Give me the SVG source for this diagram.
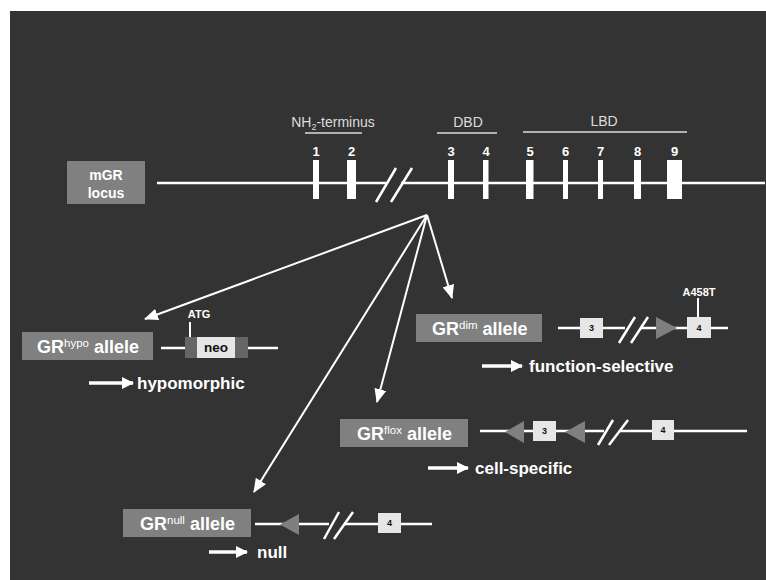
<svg xmlns="http://www.w3.org/2000/svg" width="766" height="580" viewBox="0 0 766 580">
<defs>
<style>
.bg{fill:#333333}
.lbl{fill:#808080}
.w{fill:#ffffff;font-family:"Liberation Sans",Arial,sans-serif}
.b{font-weight:bold}
.gl{stroke:#ffffff;stroke-width:2.5;fill:none}
.ex{fill:#ffffff}
.gbox{fill:#e6e6e6}
.gnum{fill:#111111;font-family:"Liberation Sans",Arial,sans-serif;font-weight:bold;font-size:9px;text-anchor:middle}
.tri{fill:#7f7f7f}
.conn{stroke:#ffffff;stroke-width:2;fill:none}
.res{stroke:#ffffff;stroke-width:3.5;fill:none}
</style>
<marker id="ah" markerWidth="14" markerHeight="12" refX="13" refY="6" orient="auto" markerUnits="userSpaceOnUse">
<path d="M0,0 L14,6 L0,12 Z" fill="#ffffff"/>
</marker>
<marker id="rh" markerWidth="12" markerHeight="12" refX="11" refY="6" orient="auto" markerUnits="userSpaceOnUse">
<path d="M0,0 L12,6 L0,12 Z" fill="#ffffff"/>
</marker>
</defs>
<rect x="0" y="0" width="766" height="580" fill="#ffffff"/>
<rect class="bg" x="10" y="11" width="756" height="569"/>

<g id="locus">
<rect class="lbl" x="67" y="161" width="78" height="43"/>
<text class="w b" x="106" y="180" font-size="14" text-anchor="middle">mGR</text>
<text class="w b" x="106" y="198" font-size="14" text-anchor="middle">locus</text>
<line class="gl" x1="157" y1="183" x2="386" y2="183"/>
<line class="gl" x1="401" y1="183" x2="765" y2="183"/>
<line class="gl" x1="376" y1="202" x2="396" y2="168" stroke-width="2"/>
<line class="gl" x1="391" y1="202" x2="412" y2="168" stroke-width="2"/>
<rect class="ex" x="313" y="160" width="6" height="39"/>
<rect class="ex" x="347" y="160" width="9" height="39"/>
<rect class="ex" x="448" y="160" width="6" height="39"/>
<rect class="ex" x="483" y="160" width="5.5" height="39"/>
<rect class="ex" x="526" y="160" width="7.5" height="39"/>
<rect class="ex" x="563" y="160" width="5" height="39"/>
<rect class="ex" x="598" y="160" width="5" height="39"/>
<rect class="ex" x="634" y="160" width="7" height="39"/>
<rect class="ex" x="667" y="160" width="15" height="39"/>
<g class="w b" font-size="13" text-anchor="middle">
<text x="316" y="156">1</text>
<text x="351.5" y="156">2</text>
<text x="451" y="156">3</text>
<text x="486" y="156">4</text>
<text x="530" y="156">5</text>
<text x="565.5" y="156">6</text>
<text x="600.5" y="156">7</text>
<text x="637.5" y="156">8</text>
<text x="674.5" y="156">9</text>
</g>
<g fill="#dddddd" font-family="&quot;Liberation Sans&quot;,Arial,sans-serif" font-size="14" text-anchor="middle">
<text x="333" y="127">NH<tspan font-size="9" dy="3">2</tspan><tspan dy="-3">-terminus</tspan></text>
<text x="468" y="127">DBD</text>
<text x="604" y="126">LBD</text>
</g>
<line x1="305" y1="133" x2="362" y2="133" stroke="#dddddd" stroke-width="1.5"/>
<line x1="437" y1="133" x2="497" y2="133" stroke="#dddddd" stroke-width="1.5"/>
<line x1="523" y1="132" x2="687" y2="132" stroke="#dddddd" stroke-width="1.5"/>
</g>

<g id="connectors">
<line class="conn" x1="427" y1="215" x2="145" y2="319" marker-end="url(#ah)"/>
<line class="conn" x1="427" y1="215" x2="452" y2="298" marker-end="url(#ah)"/>
<line class="conn" x1="427" y1="215" x2="377" y2="402" marker-end="url(#ah)"/>
<line class="conn" x1="427" y1="215" x2="254" y2="492" marker-end="url(#ah)"/>
</g>

<g id="hypo">
<rect class="lbl" x="22" y="332" width="131" height="28"/>
<text class="w b" x="37" y="353" font-size="18">GR<tspan font-size="11.5" font-weight="normal" dy="-6">hypo</tspan><tspan dy="6"> allele</tspan></text>
<line class="gl" x1="161" y1="348" x2="185" y2="348"/>
<line class="gl" x1="248" y1="348" x2="278" y2="348"/>
<rect x="185" y="337" width="63" height="21" fill="#666666"/>
<rect class="gbox" x="197" y="337" width="38" height="21"/>
<text x="216" y="352" font-family="&quot;Liberation Sans&quot;,Arial,sans-serif" font-weight="bold" font-size="13.5" fill="#111111" text-anchor="middle">neo</text>
<line x1="190" y1="322" x2="190" y2="337" stroke="#ffffff" stroke-width="2"/>
<text class="w b" x="199" y="318" font-size="11" text-anchor="middle">ATG</text>
<line class="res" x1="89" y1="383" x2="133" y2="383" marker-end="url(#rh)"/>
<text class="w b" x="137" y="389" font-size="17">hypomorphic</text>
</g>

<g id="dim">
<rect class="lbl" x="416" y="314" width="126" height="28"/>
<text class="w b" x="432" y="335" font-size="18">GR<tspan font-size="11.5" font-weight="normal" dy="-6">dim</tspan><tspan dy="6"> allele</tspan></text>
<line class="gl" x1="558" y1="328" x2="625" y2="328"/>
<line class="gl" x1="640" y1="328" x2="728" y2="328"/>
<line class="gl" x1="619" y1="343" x2="635" y2="317" stroke-width="2"/>
<line class="gl" x1="631" y1="343" x2="648" y2="317" stroke-width="2"/>
<rect class="gbox" x="580" y="318" width="23" height="20"/>
<text class="gnum" x="591.5" y="331">3</text>
<polygon class="tri" points="656,317 677,328 656,339"/>
<rect class="gbox" x="687" y="317" width="24" height="21"/>
<text class="gnum" x="699" y="331">4</text>
<line x1="698" y1="298" x2="698" y2="317" stroke="#ffffff" stroke-width="2"/>
<text class="w b" x="699" y="296" font-size="11" text-anchor="middle">A458T</text>
<line class="res" x1="482" y1="366" x2="522" y2="366" marker-end="url(#rh)"/>
<text class="w b" x="529" y="372" font-size="17">function-selective</text>
</g>

<g id="flox">
<rect class="lbl" x="340" y="419" width="128" height="28"/>
<text class="w b" x="357" y="440" font-size="18">GR<tspan font-size="11.5" font-weight="normal" dy="-6">flox</tspan><tspan dy="6"> allele</tspan></text>
<line class="gl" x1="480" y1="431" x2="604" y2="431"/>
<line class="gl" x1="619" y1="431" x2="747" y2="431"/>
<line class="gl" x1="598" y1="445" x2="613" y2="420" stroke-width="2"/>
<line class="gl" x1="609" y1="445" x2="628" y2="420" stroke-width="2"/>
<polygon class="tri" points="524,421 505,432 524,443"/>
<rect class="gbox" x="533" y="421" width="23" height="20"/>
<text class="gnum" x="544.5" y="434">3</text>
<polygon class="tri" points="585,421 565,432 585,443"/>
<rect class="gbox" x="652" y="420" width="22" height="20"/>
<text class="gnum" x="663" y="433">4</text>
<line class="res" x1="428" y1="468" x2="468" y2="468" marker-end="url(#rh)"/>
<text class="w b" x="475" y="474" font-size="17">cell-specific</text>
</g>

<g id="null">
<rect class="lbl" x="123" y="509" width="128" height="28"/>
<text class="w b" x="140" y="530" font-size="18">GR<tspan font-size="11.5" font-weight="normal" dy="-6">null</tspan><tspan dy="6"> allele</tspan></text>
<line class="gl" x1="255" y1="524" x2="329" y2="524"/>
<line class="gl" x1="344" y1="524" x2="432" y2="524"/>
<line class="gl" x1="324" y1="539" x2="339" y2="512" stroke-width="2"/>
<line class="gl" x1="334" y1="539" x2="353" y2="512" stroke-width="2"/>
<polygon class="tri" points="299,514 280,524.5 299,535"/>
<rect class="gbox" x="378" y="513" width="23" height="20"/>
<text class="gnum" x="389.5" y="526">4</text>
<line class="res" x1="209" y1="552" x2="247" y2="552" marker-end="url(#rh)"/>
<text class="w b" x="257" y="558" font-size="17">null</text>
</g>
</svg>
